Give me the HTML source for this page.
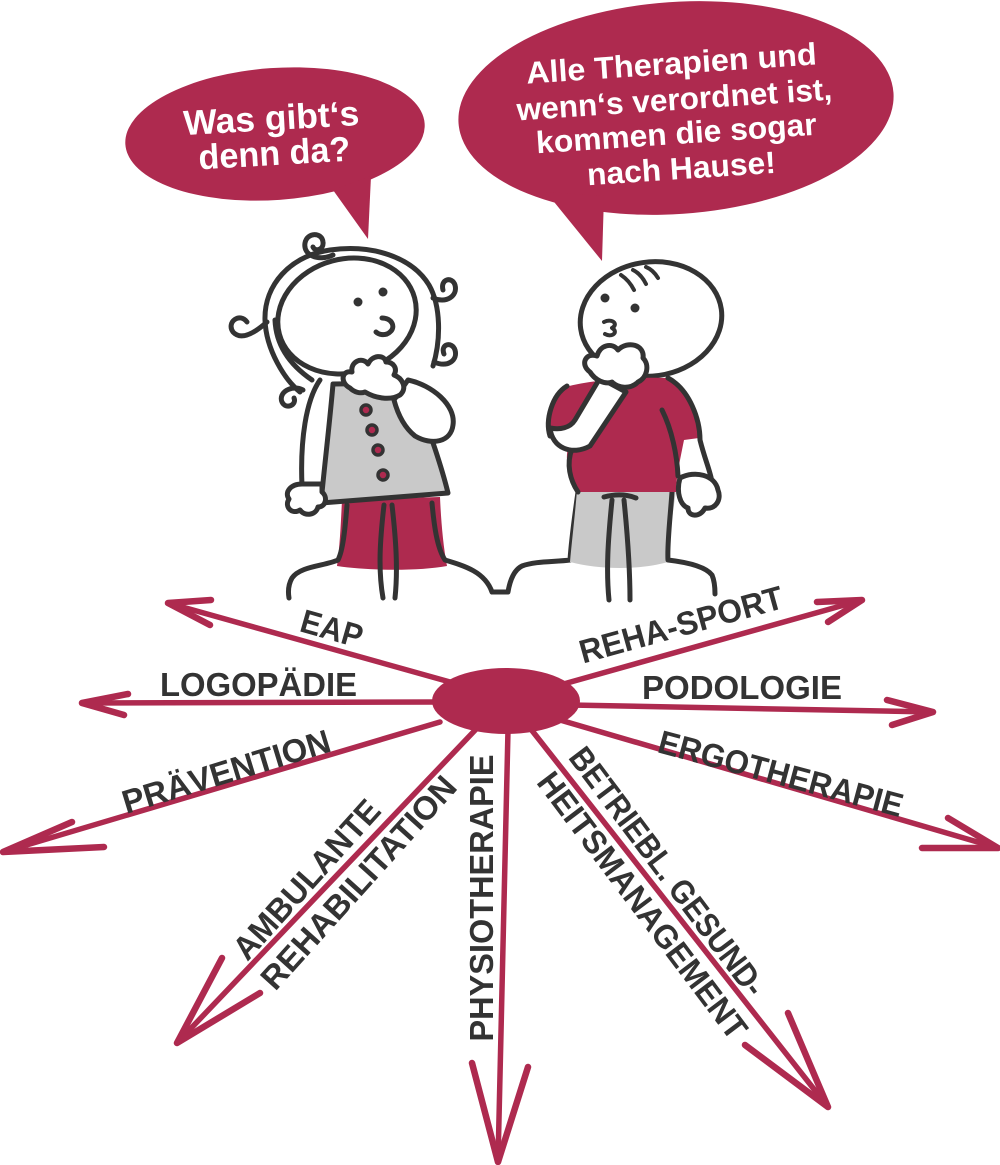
<!DOCTYPE html>
<html>
<head>
<meta charset="utf-8">
<style>
html,body{margin:0;padding:0;background:#fff;}
svg{display:block;}
.lbl{font-family:"Liberation Sans",Arial,sans-serif;font-weight:bold;font-size:33px;fill:#333;}
.bub{font-family:"Liberation Sans",Arial,sans-serif;font-weight:bold;font-size:31px;fill:#fff;}
</style>
</head>
<body>
<svg width="1000" height="1165" viewBox="0 0 1000 1165" xmlns="http://www.w3.org/2000/svg">
<!-- Speech bubbles -->
<ellipse cx="275" cy="134" rx="150" ry="66" transform="rotate(-4 275 134)" fill="#ae2a4f"/>
<polygon points="333,190 368,239 371,176" fill="#ae2a4f"/>
<ellipse cx="676" cy="108" rx="218" ry="106" transform="rotate(-4 676 108)" fill="#ae2a4f"/>
<polygon points="546,192 602,261 604,196" fill="#ae2a4f"/>

<text class="bub" x="272" y="130" text-anchor="middle" textLength="176" lengthAdjust="spacingAndGlyphs" transform="rotate(-3.3 272 130)" style="font-size:35px">Was gibt‘s</text>
<text class="bub" x="275" y="165" text-anchor="middle" textLength="152" lengthAdjust="spacingAndGlyphs" transform="rotate(-3.3 275 165)" style="font-size:35px">denn da?</text>

<text class="bub" x="672" y="74" text-anchor="middle" textLength="291" lengthAdjust="spacingAndGlyphs" transform="rotate(-3.8 672 74)">Alle Therapien und</text>
<text class="bub" x="675" y="110" text-anchor="middle" textLength="316" lengthAdjust="spacingAndGlyphs" transform="rotate(-3.8 675 110)">wenn‘s verordnet ist,</text>
<text class="bub" x="677" y="144" text-anchor="middle" textLength="281" lengthAdjust="spacingAndGlyphs" transform="rotate(-3.8 677 144)">kommen die sogar</text>
<text class="bub" x="682" y="179" text-anchor="middle" textLength="189" lengthAdjust="spacingAndGlyphs" transform="rotate(-3.8 682 179)">nach Hause!</text>

<!-- GIRL -->
<g stroke="#333" stroke-width="5" stroke-linecap="round" stroke-linejoin="round">
  <path d="M342,500 L440,497 C441,520 443,545 447,566 C420,571 370,571 337,566 C340,545 341,520 342,500Z" fill="#ae2a4f" stroke="none"/>
  <path d="M347,505 C345,530 343,550 338,560 C325,566 300,566 292,578 C288,585 288,592 289,598" fill="none"/>
  <path d="M432,503 C434,525 437,548 445,560 C465,566 485,572 492,592 L508,592 C510,580 514,570 522,566 C535,561 555,562 570,560 C571,545 574,520 578,492" fill="none"/>
  <path d="M384,505 C380,540 378,570 383,598" fill="none"/>
  <path d="M392,505 C396,540 398,570 395,598" fill="none"/>
  <!-- hair -->
  <path d="M300,392 C285,380 266,350 265,320 C264,285 290,256 330,250 C372,244 412,257 429,285 C441,306 441,340 433,366" fill="#fff"/>
  <path d="M312,380 C290,365 276,345 275,320" fill="none"/>
  <!-- curls -->
  <path d="M333,255 C318,262 303,255 305,243 C307,232 322,232 323,242 C324,250 315,252 313,247" fill="none"/>
  <path d="M267,322 C258,330 242,342 233,332 C226,322 240,312 247,322" fill="none"/>
  <path d="M433,298 C446,304 458,296 455,285 C452,276 440,279 443,290" fill="none"/>
  <path d="M434,362 C448,368 458,360 455,350 C452,341 440,344 444,354" fill="none"/>
  <path d="M303,390 C291,384 278,393 282,402 C286,410 297,405 294,398" fill="none"/>
  <!-- head -->
  <ellipse cx="347" cy="316" rx="70" ry="57" transform="rotate(-15 347 316)" fill="#fff"/>
  <circle cx="358" cy="302" r="4.5" fill="#333" stroke="none"/>
  <circle cx="383" cy="292" r="4.5" fill="#333" stroke="none"/>
  <path d="M382,318 C392,318 396,327 390,332 C386,336 379,335 376,332" fill="none"/>
  <!-- left arm -->
  <path d="M320,380 C306,400 300,440 302,486 L326,486 L330,390 Z" fill="#fff" stroke="none"/>
  <path d="M320,380 C306,400 300,440 302,486" fill="none"/>
  <!-- dress -->
  <path d="M333,384 C330,420 324,470 321,503 C360,500 410,496 448,493 C440,460 425,420 412,383 Z" fill="#c9c9c9"/>
  <circle cx="366" cy="410" r="5" fill="#ae2a4f" stroke-width="3.5"/>
  <circle cx="372" cy="430" r="5" fill="#ae2a4f" stroke-width="3.5"/>
  <circle cx="378" cy="450" r="5" fill="#ae2a4f" stroke-width="3.5"/>
  <circle cx="383" cy="475" r="5" fill="#ae2a4f" stroke-width="3.5"/>
  <!-- left hand -->
  <path d="M302,484 C291,484 284,492 289,499 C284,507 292,515 300,510 C305,517 316,515 318,507 C326,507 328,497 322,492 L322,484 Z" fill="#fff"/>
  <!-- right arm -->
  <path d="M408,380 C432,385 456,405 453,425 C451,442 432,446 415,436 C405,428 398,415 394,400 Z" fill="#fff"/>
  <!-- hand at chin -->
  <path d="M350,388 C340,383 341,370 352,372 C350,362 362,356 368,364 C372,355 384,354 386,362 C393,362 398,368 394,375 C402,378 408,388 400,395 C390,401 375,398 365,392 C360,394 354,392 350,388 Z" fill="#fff"/>
</g>

<!-- BOY -->
<g stroke="#333" stroke-width="5" stroke-linecap="round" stroke-linejoin="round">
  <path d="M577,490 L676,490 C673,515 668,540 668,562 C640,570 600,570 570,562 C572,540 575,515 577,490 Z" fill="#c9c9c9" stroke="none"/>
  <path d="M672,492 C670,520 667,545 668,560 C685,562 705,566 712,575 C715,582 715,590 715,594" fill="none"/>
  <path d="M612,500 C608,540 606,570 609,600" fill="none"/>
  <path d="M624,500 C628,540 630,570 630,600" fill="none"/>
  <path d="M604,497 C615,494 626,494 636,498" fill="none"/>
  <!-- head -->
  <ellipse cx="651" cy="319" rx="71" ry="57" transform="rotate(-8 651 319)" fill="#fff"/>
  <path d="M621,275 C627,279 631,284 634,290" fill="none" stroke-width="4"/>
  <path d="M633,270 C639,273 643,278 646,284" fill="none" stroke-width="4"/>
  <path d="M646,267 C651,269 655,273 658,278" fill="none" stroke-width="4"/>
  <circle cx="605" cy="298" r="4.5" fill="#333" stroke="none"/>
  <circle cx="635" cy="308" r="4.5" fill="#333" stroke="none"/>
  <path d="M604,322 C612,318 619,324 612,328 C619,332 612,338 605,334" fill="none" stroke-width="4"/>
  <!-- shirt -->
  <path d="M565,387 C600,378 645,377 668,378 C688,390 698,415 699,438 L684,440 C680,460 676,478 676,492 L577,492 C568,478 565,460 568,447 C555,445 547,430 550,412 C552,400 558,392 565,387 Z" fill="#ae2a4f" stroke="none"/>
  <path d="M567,386 C552,395 545,420 550,436" fill="none"/>
  <path d="M572,449 C566,464 570,480 578,492" fill="none"/>
  <path d="M685,441 L700,441 C703,458 708,470 711,480 L688,482 C682,468 682,455 685,441Z" fill="#fff" stroke="none"/>
  <path d="M668,378 C690,390 700,420 700,440 C705,460 710,470 712,482" fill="none"/>
  <path d="M662,410 C672,430 677,455 678,476" fill="none"/>
  <!-- right hand -->
  <path d="M680,478 C695,470 715,475 718,490 C722,500 715,510 705,508 C700,518 688,517 688,508 C680,505 676,492 680,478 Z" fill="#fff"/>
  <!-- folded forearm -->
  <path d="M550,428 C552,448 572,456 590,446 L626,392 L600,378 L575,420 C570,428 560,430 550,428 Z" fill="#fff"/>
  <!-- hand at chin -->
  <path d="M590,372 C580,365 585,352 597,356 C600,345 612,342 618,350 C628,340 645,345 643,358 C650,365 647,378 638,382 C630,390 618,388 612,382 C605,385 595,380 590,372 Z" fill="#fff"/>
</g>

<!-- ARROWS -->
<g stroke="#ae2a4f" stroke-width="5.5" stroke-linecap="round" stroke-linejoin="round" fill="none">
  <path d="M450,682 L168,603"/>
  <path d="M440,702 L82,703"/>
  <path d="M440,722 L3,852"/>
  <path d="M480,725 L177,1043"/>
  <path d="M508,730 L498,1162"/>
  <path d="M530,728 L828,1107"/>
  <path d="M560,720 L998,848"/>
  <path d="M570,705 L933,712"/>
  <path d="M560,685 L862,600"/>
</g>
<g stroke="#ae2a4f" stroke-width="6.5" stroke-linecap="round" stroke-linejoin="round" fill="none">
  <path d="M211,600 L168,603 L210,625"/>
  <path d="M128,694 L82,703 L124,715"/>
  <path d="M72,822 L3,852 L104,847"/>
  <path d="M222,958 L177,1043 L260,993"/>
  <path d="M472,1063 L498,1162 L528,1067"/>
  <path d="M788,1013 L828,1107 L745,1045"/>
  <path d="M948,818 L998,848 L922,848"/>
  <path d="M887,700 L933,712 L892,725"/>
  <path d="M817,602 L862,600 L828,622"/>
</g>
<ellipse cx="506" cy="701" rx="74" ry="33" fill="#ae2a4f"/>

<!-- LABELS -->
<text class="lbl" transform="translate(332,628) rotate(16)" x="0" y="12" text-anchor="middle" textLength="63" lengthAdjust="spacingAndGlyphs">EAP</text>
<text class="lbl" x="160" y="696" textLength="197" lengthAdjust="spacingAndGlyphs">LOGOPÄDIE</text>
<text class="lbl" transform="translate(226,771) rotate(-17)" x="0" y="12" text-anchor="middle" textLength="216" lengthAdjust="spacingAndGlyphs">PRÄVENTION</text>
<text class="lbl" transform="translate(306,879) rotate(-48)" x="0" y="12" text-anchor="middle" textLength="202" lengthAdjust="spacingAndGlyphs">AMBULANTE</text>
<text class="lbl" transform="translate(358,882) rotate(-48)" x="0" y="12" text-anchor="middle" textLength="274" lengthAdjust="spacingAndGlyphs">REHABILITATION</text>
<text class="lbl" transform="translate(481,898) rotate(-90)" x="0" y="12" text-anchor="middle" textLength="287" lengthAdjust="spacingAndGlyphs">PHYSIOTHERAPIE</text>
<text class="lbl" transform="translate(668,871) rotate(53)" x="0" y="12" text-anchor="middle" textLength="302" lengthAdjust="spacingAndGlyphs">BETRIEBL. GESUND-</text>
<text class="lbl" transform="translate(643,905) rotate(53)" x="0" y="12" text-anchor="middle" textLength="325" lengthAdjust="spacingAndGlyphs">HEITSMANAGEMENT</text>
<text class="lbl" transform="translate(781,773) rotate(15)" x="0" y="12" text-anchor="middle" textLength="252" lengthAdjust="spacingAndGlyphs">ERGOTHERAPIE</text>
<text class="lbl" x="642" y="699" textLength="200" lengthAdjust="spacingAndGlyphs">PODOLOGIE</text>
<text class="lbl" transform="translate(681,624) rotate(-15.5)" x="0" y="12" text-anchor="middle" textLength="210" lengthAdjust="spacingAndGlyphs">REHA-SPORT</text>
</svg>
</body>
</html>
